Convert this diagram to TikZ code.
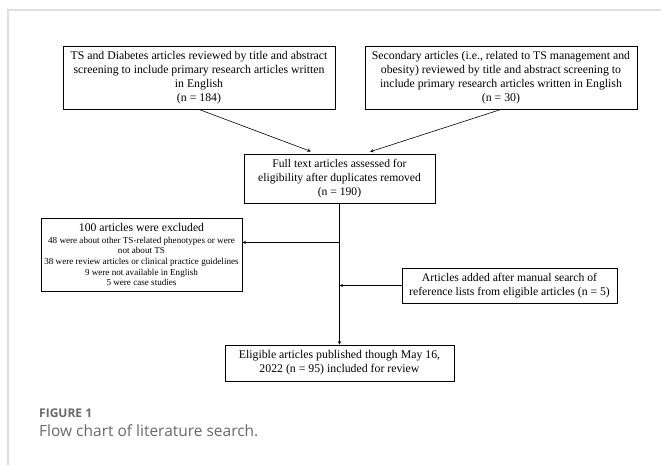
\documentclass[tikz,border=0pt]{standalone}
\usepackage{fontspec}
\setmainfont{Liberation Serif}
\newfontfamily\captionfont{Open Sans}
\usetikzlibrary{arrows,calc,positioning}
\definecolor{framegray}{RGB}{222,222,222}
\definecolor{captiongray}{RGB}{105,105,105}
\tikzstyle{screening} = [rectangle, minimum width=272pt, minimum height=63pt, inner sep=2pt, align=center, draw=black, line width=0.9pt, font=\fontsize{11.8}{13.8}\selectfont]
\tikzstyle{assessed} = [rectangle, minimum width=191pt, minimum height=49pt, inner sep=2pt, align=center, draw=black, line width=0.9pt, font=\fontsize{11.6}{14}\selectfont]
\tikzstyle{excluded} = [rectangle, minimum width=201pt, minimum height=73pt, inner sep=2pt, align=center, draw=black, line width=0.9pt, font=\fontsize{9.1}{10.6}\selectfont]
\tikzstyle{added} = [rectangle, minimum width=215pt, minimum height=35pt, inner sep=2pt, align=center, draw=black, line width=0.9pt, font=\fontsize{11.7}{14}\selectfont]
\tikzstyle{included} = [rectangle, minimum width=229pt, minimum height=36pt, inner sep=2pt, align=center, draw=black, line width=0.9pt, font=\fontsize{11.8}{14}\selectfont]
\tikzstyle{arrow} = [line width=0.6pt,->,>=stealth]
\tikzstyle{captionlabel} = [anchor=west, inner sep=0pt, text=captiongray, font=\captionfont\bfseries\fontsize{12}{14}\selectfont]
\tikzstyle{captiontext} = [anchor=west, inner sep=0pt, text=captiongray, font=\captionfont\fontsize{15.5}{18}\selectfont]

\begin{document}
\begin{tikzpicture}[node distance=1cm]
\useasboundingbox (0,0) rectangle (661pt,-465pt);
\draw [framegray, line width=2pt] (8pt,-465pt) -- (8pt,-10.5pt) -- (661pt,-10.5pt);

\node (diabetes) [screening] at (199pt,-77.5pt) {TS and Diabetes articles reviewed by title and abstract\\screening to include primary research articles written\\in English\\(n = 184)};
\node (secondary) [screening, node distance=302pt, right of=diabetes] {Secondary articles (i.e., related to TS management and\\obesity) reviewed by title and abstract screening to\\include primary research articles written in English\\(n = 30)};
\node (fulltext) [assessed, node distance=101pt, below of=diabetes, xshift=140.5pt] {Full text articles assessed for\\eligibility after duplicates removed\\(n = 190)};
\node (excluded) [excluded, node distance=76pt, below of=fulltext, xshift=-198pt] {{\fontsize{11.7}{14}\selectfont 100 articles were excluded}\\[1.5pt]48 were about other TS-related phenotypes or were\\not about TS\\38 were review articles or clinical practice guidelines\\9 were not available in English\\5 were case studies};
\node (added) [added, node distance=107pt, below of=fulltext, xshift=170pt] {Articles added after manual search of\\reference lists from eligible articles (n = 5)};
\node (included) [included, node distance=184.5pt, below of=fulltext] {Eligible articles published though May 16,\\2022 (n = 95) included for review};

\coordinate (split) at ($(fulltext.south)+(0,-39pt)$);

\draw [arrow, shorten >=6pt] (diabetes.south) -- ([xshift=-23pt]fulltext.north);
\draw [arrow, shorten >=6pt] (secondary.south) -- ([xshift=25pt]fulltext.north);
\draw [arrow] (fulltext) -- (included);
\draw [arrow] (split) -- (split -| excluded.east);
\draw [arrow] (added.west) -- (added.west -| fulltext.south);

\node (figlabel) [captionlabel] at (39pt,-413pt) {FIGURE 1};
\node (figtitle) [captiontext] at (39pt,-431pt) {Flow chart of literature search.};

\end{tikzpicture}
\end{document}
